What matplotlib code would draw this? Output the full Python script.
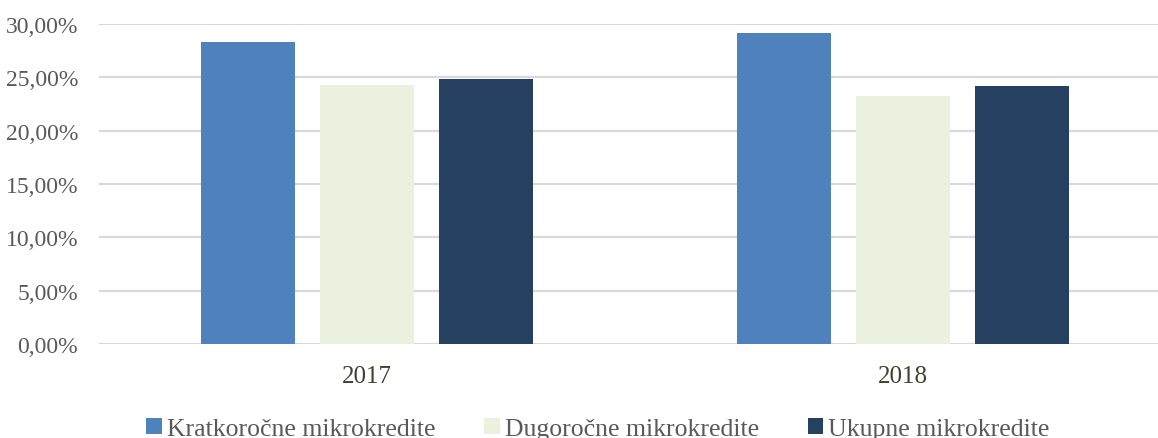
import matplotlib.pyplot as plt
import numpy as np
from matplotlib.ticker import FuncFormatter, MultipleLocator

plt.rcParams['font.family'] = ['Liberation Serif', 'DejaVu Serif']

# Data
years = ['2017', '2018']
kratkorocne = [0.2830, 0.2915]
dugorocne = [0.2424, 0.2327]
ukupne = [0.2487, 0.2415]
series_names = ['Kratkoročne mikrokredite', 'Dugoročne mikrokredite', 'Ukupne mikrokredite']
colors = ['#4F81BD', '#EBF1DE', '#254061']

fig = plt.figure(figsize=(11.58, 4.39), dpi=100)
ax = fig.add_axes([99 / 1158, 94 / 439, (1158 - 99) / 1158, 320 / 439])

x = np.arange(len(years))
width = 0.1754
offset = 0.222

for i, (vals, name, col) in enumerate(zip([kratkorocne, dugorocne, ukupne], series_names, colors)):
    ax.bar(x + (i - 1) * offset, vals, width, color=col, label=name, zorder=3)

ax.set_xlim(-0.5, 1.476)
ax.set_ylim(0, 0.30)
ax.yaxis.set_major_locator(MultipleLocator(0.05))
ax.yaxis.set_major_formatter(FuncFormatter(lambda v, p: ('%.2f%%' % (v * 100)).replace('.', ',')))
ax.grid(axis='y', color='#D9D9D9', linewidth=1.6, zorder=0)

for s in ax.spines.values():
    s.set_visible(False)

ax.set_xticks(x)
ax.set_xticklabels(years)
ax.tick_params(axis='x', length=0, pad=15, labelsize=18, labelcolor='#404030')
ax.tick_params(axis='y', length=0, pad=15, labelsize=17, labelcolor='#595959')

leg = fig.legend(loc='center', bbox_to_anchor=(598 / 1158, 9 / 439), ncol=3, frameon=False,
                 fontsize=18.5, handlelength=0.6, handleheight=0.6, handletextpad=0.2,
                 columnspacing=1.9, borderaxespad=0)
for t in leg.get_texts():
    t.set_color('#595959')

fig.savefig('out.png', dpi=100)
